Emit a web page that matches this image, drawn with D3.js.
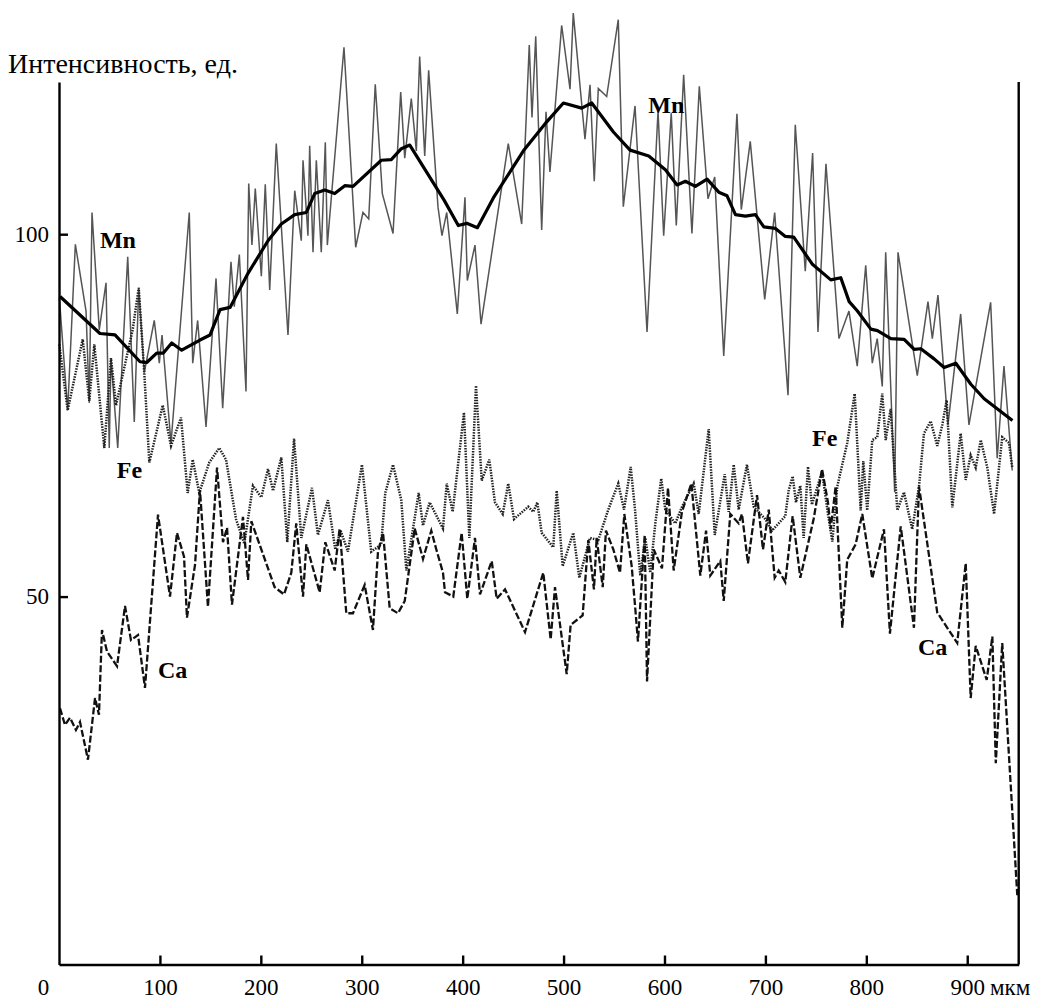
<!DOCTYPE html>
<html>
<head>
<meta charset="utf-8">
<script src="https://cdn.jsdelivr.net/npm/d3@7"></script>
<style>
  html, body { margin: 0; padding: 0; background: #fff; }
  svg { display: block; }
  text { font-family: "Liberation Serif", "Times New Roman", serif; fill: #000; }
</style>
</head>
<body>
<svg id="chart" width="1044" height="1001"></svg>
<script>
// Profile across the grain: distance (мкм) and intensity (ед.)
const xTicks = [0, 100, 200, 300, 400, 500, 600, 700, 800, 900];
const yTicks = [50, 100];

// Mn, raw scan
const mnRaw = [
  [0.3,91.3],[8.6,75.7],[16.2,98.6],[26.8,89.4],[30.0,76.7],[32.7,103.0],[39.9,86.8],[46.6,93.3],
  [49.8,70.5],[51.5,82.9],[58.2,70.5],[68.1,96.9],[74.6,74.1],[79.0,92.6],[84.5,80.9],[94.4,88.1],
  [99.4,82.2],[102.1,86.1],[111.0,71.2],[129.1,103.0],[132.5,82.2],[137.4,88.1],[145.7,73.4],
  [155.6,93.9],[162.2,76.0],[170.4,96.2],[173.7,90.0],[178.7,97.2],[185.3,78.3],[188.0,107.0],
  [191.2,98.5],[194.5,106.3],[200.5,94.2],[204.4,106.9],[208.8,92.3],[215.3,112.5],[226.9,86.1],
  [233.6,106.0],[240.1,99.1],[241.8,110.2],[246.7,99.8],[248.4,112.2],[251.7,97.5],[255.0,110.2],
  [259.9,97.5],[263.9,112.7],[265.9,98.5],[282.4,125.8],[294.0,98.2],[301.2,103.0],[306.9,102.1],
  [313.4,120.7],[320.4,105.6],[331.0,100.1],[338.6,119.6],[342.6,110.5],[349.1,118.7],[354.1,111.5],
  [357.4,124.5],[362.4,110.8],[366.3,122.6],[375.6,103.7],[379.5,99.8],[384.2,103.0],[394.7,89.0],
  [402.3,105.1],[404.6,93.6],[412.2,98.5],[418.2,87.6],[445.2,112.5],[458.5,101.4],[466.0,126.1],
  [468.7,116.1],[472.4,127.3],[478.3,100.6],[482.6,116.9],[486.5,108.6],[498.1,128.8],[506.4,120.0],
  [509.6,130.5],[521.2,113.1],[526.2,120.6],[530.4,107.3],[534.4,120.1],[542.7,119.0],[554.2,129.6],
  [559.2,103.8],[570.8,117.7],[582.7,86.5],[593.6,117.0],[599.2,99.8],[606.7,116.7],[611.7,101.2],
  [619.0,122.0],[627.2,100.1],[634.5,120.4],[643.1,104.9],[649.8,107.9],[658.7,83.2],[671.8,116.6],
  [676.1,103.4],[685.0,112.8],[699.3,91.0],[709.2,103.0],[722.4,77.8],[729.6,115.1],[739.5,94.9],
  [746.8,111.2],[752.1,86.5],[760.0,109.7],[772.9,85.6],[782.8,89.4],[791.0,81.8],[799.4,95.7],
  [805.9,82.2],[810.8,85.6],[815.8,79.0],[819.2,97.5],[828.1,64.4],[831.4,97.5],[850.5,80.5],
  [861.1,90.7],[865.4,85.6],[871.0,91.6],[880.9,73.7],[893.5,89.0],[901.7,73.7],[923.2,90.6],
  [929.7,69.1],[936.4,81.8],[944.6,67.4]
];

// Mn, running mean
const mnMean = [
  [1,91.4],[40.6,86.3],[55.5,86.1],[80.3,82.4],[86.9,82.3],[96.8,83.6],[103.4,83.6],[111.7,85.0],
  [121.6,84.0],[139.7,85.4],[149.7,86.1],[159.6,89.6],[169.5,89.9],[187.3,94.6],[207.1,99.1],
  [220.3,101.4],[233.6,102.7],[245.1,103.0],[253.4,105.6],[263.3,106.1],[273.2,105.6],[283.2,106.7],
  [291.4,106.6],[319.4,110.2],[329.3,110.3],[339.2,111.8],[347.6,112.3],[381.6,104.7],[395.7,101.2],
  [404.1,101.5],[414.6,100.9],[430.4,105.0],[460.2,111.5],[483.3,115.5],[499.8,118.1],[518.0,117.4],
  [527.9,118.1],[549.4,114.1],[565.9,111.6],[584.4,110.8],[600.9,108.9],[612.5,106.8],[620.7,107.3],
  [630.6,106.6],[642.2,107.6],[653.8,105.8],[662.0,105.3],[670.3,102.7],[680.2,102.5],[690.1,102.7],
  [698.4,101.0],[709.9,100.8],[719.8,99.7],[728.1,99.6],[746.3,95.9],[764.8,93.7],[774.7,94.0],
  [783.0,90.7],[791.2,89.4],[804.5,86.9],[811.0,86.7],[824.3,85.6],[837.5,85.5],[847.4,84.1],
  [854.0,84.2],[867.2,82.8],[877.1,81.6],[888.7,82.2],[903.6,79.3],[916.8,77.3],[944.8,74.3]
];

// Fe
const fe = [
  [0.3,84.8],[8.6,75.7],[23.5,85.5],[30.0,77.0],[35.0,84.8],[44.9,70.5],[51.5,82.9],[56.5,76.4],
  [64.7,81.6],[73.0,86.8],[79.0,92.6],[84.5,80.9],[89.5,68.5],[102.8,76.4],[111.0,70.8],[120.9,74.7],
  [127.5,64.3],[132.5,68.9],[139.0,64.3],[148.9,68.5],[158.8,70.5],[165.5,68.9],[175.4,60.7],
  [183.6,57.3],[192.2,65.3],[200.5,63.7],[207.1,67.6],[212.1,64.6],[220.3,69.2],[226.2,57.5],
  [232.9,71.8],[240.1,58.1],[250.7,65.0],[256.6,58.5],[266.5,63.3],[273.8,56.5],[279.1,59.1],
  [286.3,56.2],[300.2,68.2],[309.4,56.2],[319.3,57.2],[323.3,64.3],[331.0,68.2],[339.2,63.3],
  [344.2,53.6],[356.4,64.3],[360.7,59.8],[367.3,63.0],[380.5,59.4],[384.2,65.6],[390.1,61.7],
  [401.3,75.4],[406.6,58.1],[413.2,79.1],[418.9,66.0],[426.4,68.9],[432.0,63.0],[439.7,61.4],
  [445.2,65.6],[450.9,60.7],[465.0,62.4],[470.0,61.7],[474.0,63.0],[478.3,58.8],[489.8,56.8],
  [493.2,64.6],[499.1,54.2],[509.6,58.8],[515.6,52.6],[526.2,58.1],[534.4,57.8],[544.3,62.0],
  [554.2,65.6],[559.9,62.0],[566.5,67.9],[570.8,62.0],[576.0,52.9],[581.0,58.1],[585.9,53.3],
  [590.9,60.1],[596.8,66.3],[600.8,62.0],[610.7,60.1],[617.4,62.4],[628.9,65.6],[633.9,61.4],
  [643.8,73.1],[649.8,58.5],[659.7,66.9],[663.6,61.7],[668.6,68.2],[673.5,62.0],[681.7,68.2],
  [688.4,62.4],[699.9,60.7],[706.5,59.1],[719.7,61.1],[723.0,64.6],[727.0,66.6],[730.3,63.0],
  [734.6,65.3],[737.9,58.1],[742.2,67.9],[746.1,62.7],[756.1,67.2],[762.0,61.4],[766.3,57.6],
  [771.2,65.2],[781.1,71.2],[788.5,78.0],[794.4,61.9],[797.0,68.7],[800.9,61.9],[805.9,71.6],
  [810.8,72.0],[815.8,78.0],[819.2,71.6],[824.1,75.9],[830.7,61.9],[837.3,64.4],[845.5,59.3],
  [852.2,65.2],[857.1,72.5],[863.8,74.2],[870.3,70.8],[875.3,73.7],[879.6,77.1],[885.2,62.3],
  [893.5,72.5],[898.5,66.1],[903.4,69.5],[908.4,67.8],[913.4,71.6],[919.9,67.8],[926.6,61.4],
  [934.7,72.0],[941.4,71.2],[944.6,67.8]
];

// Ca
const ca = [
  [1.0,34.6],[5.9,32.3],[10.9,33.3],[16.8,31.6],[20.8,32.7],[28.7,27.5],[35.7,36.0],[39.6,33.7],
  [42.6,45.4],[47.6,42.4],[57.5,40.4],[65.4,48.7],[71.3,44.0],[78.3,44.7],[85.2,37.4],[98.1,61.3],
  [110.0,50.0],[116.9,58.8],[123.9,55.5],[126.8,47.1],[134.8,54.4],[139.7,64.7],[147.6,48.6],
  [156.6,67.8],[162.5,57.5],[166.5,59.5],[171.4,48.9],[182.3,61.0],[187.3,52.3],[190.6,60.4],
  [213.7,51.3],[223.0,50.3],[230.2,53.3],[235.1,60.1],[241.8,50.0],[245.1,57.2],[258.3,50.6],
  [263.9,57.5],[273.2,53.6],[278.1,59.4],[284.7,47.7],[291.3,47.7],[302.9,51.6],[311.1,45.4],
  [316.1,56.2],[321.1,58.8],[327.7,48.4],[335.9,47.7],[342.6,49.4],[352.5,59.4],[360.7,55.2],
  [368.9,59.1],[373.9,56.5],[380.5,53.3],[382.5,50.6],[390.7,50.0],[399.0,58.8],[404.6,49.7],
  [412.2,58.1],[417.2,50.3],[428.8,54.9],[433.7,49.7],[442.0,51.0],[461.8,45.1],[479.9,53.3],
  [487.2,44.1],[491.5,51.3],[503.1,39.3],[507.0,46.1],[518.9,47.4],[524.5,57.8],[530.1,51.0],
  [532.8,58.1],[538.8,51.3],[542.0,59.1],[549.3,56.5],[555.9,53.3],[560.2,61.4],[567.5,54.2],
  [571.8,47.1],[573.7,43.8],[580.4,58.5],[582.7,38.3],[589.3,56.5],[597.5,53.9],[603.5,65.0],
  [609.1,53.6],[617.3,61.7],[626.6,65.6],[635.5,52.9],[641.2,59.1],[645.4,52.9],[655.3,54.9],
  [658.7,49.4],[665.2,61.4],[673.5,60.1],[676.8,61.4],[682.7,54.6],[691.7,64.0],[697.6,56.5],
  [703.3,62.0],[709.2,52.6],[713.2,53.6],[719.7,52.0],[727.0,61.1],[734.6,52.6],[747.8,60.7],
  [756.1,67.6],[762.0,63.0],[764.7,59.3],[769.6,65.2],[776.2,45.7],[781.1,55.1],[789.4,57.2],
  [796.0,61.4],[805.9,52.5],[817.5,59.3],[823.4,44.9],[834.1,59.7],[847.2,45.7],[852.2,65.2],
  [870.3,47.8],[890.1,43.6],[898.5,54.6],[903.4,36.0],[908.4,43.2],[919.3,38.5],[924.9,44.5],
  [928.3,27.0],[934.7,43.6],[949.6,8.8]
];

// Element labels next to their curves: [text, distance, intensity at baseline]
const labels = [
  ["Mn", 40.6, 98.1], ["Mn", 584.0, 116.7],
  ["Fe", 57.2, 66.4], ["Fe", 746.2, 70.8],
  ["Ca", 98.1, 38.8], ["Ca", 851.2, 42.0]
];

(function draw() {
  const svg = d3.select("#chart");
  const plotLeft = 59, plotRight = 1018.7, plotTop = 82, plotBottom = 964.5;

  const x = d3.scaleLinear().domain([0, 951]).range([plotLeft, plotRight]);
  const y = d3.scaleLinear().domain([-0.76, 121.0]).range([plotBottom, plotTop]);

  const line = d3.line().x(d => x(d[0])).y(d => y(d[1]));

  // curves
  svg.append("path").datum(mnRaw).attr("d", line)
    .attr("fill", "none").attr("stroke", "#555").attr("stroke-width", 1.5);
  svg.append("path").datum(fe).attr("d", line)
    .attr("fill", "none").attr("stroke", "#222").attr("stroke-width", 2.5)
    .attr("stroke-dasharray", "1.5,1.2");
  svg.append("path").datum(ca).attr("d", line)
    .attr("fill", "none").attr("stroke", "#111").attr("stroke-width", 2.3)
    .attr("stroke-dasharray", "7,2.5");
  svg.append("path").datum(mnMean).attr("d", line)
    .attr("fill", "none").attr("stroke", "#000").attr("stroke-width", 3.2)
    .attr("stroke-linejoin", "round");

  // axes
  const axisStyle = g => g.attr("font-family", null).attr("font-size", null)
    .call(s => s.selectAll("text").style("font-size", "23px"))
    .call(s => s.selectAll("line, path").attr("stroke", "#000").attr("stroke-width", 2.4));

  const gx = svg.append("g").attr("transform", `translate(0,${plotBottom})`)
    .call(d3.axisBottom(x).tickValues(xTicks).tickSizeInner(-9).tickSizeOuter(0)
      .tickPadding(14).tickFormat(d3.format("d")))
    .call(axisStyle);
  gx.selectAll(".tick").filter(d => d === 0).select("line").remove();
  gx.selectAll(".tick").filter(d => d === 0).select("text").attr("x", -16);
  gx.append("text").attr("x", 990).attr("y", 14).attr("dy", "0.71em")
    .attr("text-anchor", "start").style("font-size", "23px").text("мкм");

  svg.append("g").attr("transform", `translate(${plotLeft},0)`)
    .call(d3.axisLeft(y).tickValues(yTicks).tickSizeInner(-9).tickSizeOuter(0).tickPadding(10))
    .call(axisStyle);

  svg.append("line").attr("x1", plotRight).attr("x2", plotRight)
    .attr("y1", plotTop).attr("y2", plotBottom)
    .attr("stroke", "#000").attr("stroke-width", 2.4);

  // axis title
  svg.append("text").attr("x", 8).attr("y", 73).style("font-size", "28px")
    .text("Интенсивность, ед.");

  // element labels
  svg.selectAll("text.el").data(labels).join("text").attr("class", "el")
    .attr("x", d => x(d[1])).attr("y", d => y(d[2]))
    .style("font-size", "24px").style("font-weight", "bold")
    .text(d => d[0]);
})();
</script>
</body>
</html>
